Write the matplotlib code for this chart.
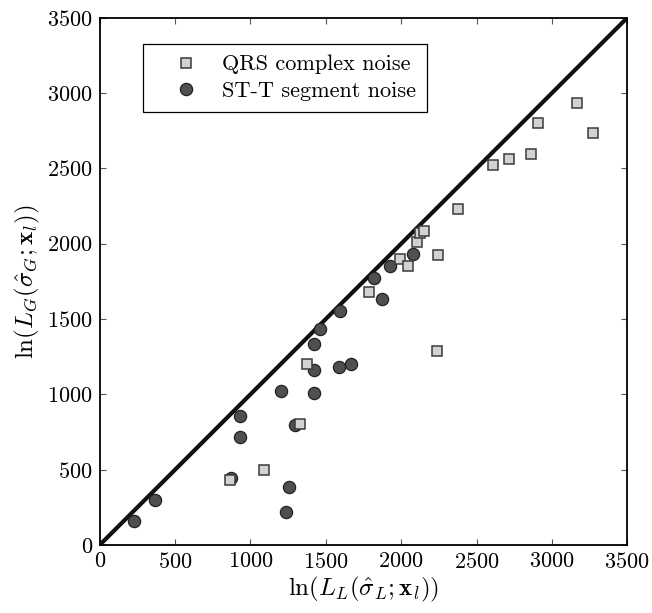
import numpy as np
import matplotlib
matplotlib.use('Agg')
import matplotlib.pyplot as plt

plt.rcParams['font.family'] = 'serif'
plt.rcParams['font.serif'] = ['cmr10', 'DejaVu Serif']
plt.rcParams['mathtext.fontset'] = 'cm'
plt.rcParams['axes.formatter.use_mathtext'] = True

# QRS complex noise (squares)
qrs_x = [863, 1089, 1332, 1372, 1788, 1992, 2047, 2102, 2128, 2153, 2246, 2241,
         2380, 2607, 2716, 2862, 2906, 3165, 3276]
qrs_y = [432, 498, 803, 1200, 1678, 1899, 1855, 2014, 2070, 2085, 1924, 1290,
         2231, 2523, 2561, 2594, 2802, 2933, 2738]

# ST-T segment noise (circles)
stt_x = [228, 365, 868, 932, 932, 1257, 1233, 1204, 1295, 1423, 1423, 1423,
         1461, 1594, 1589, 1664, 1822, 1876, 1929, 2078]
stt_y = [161, 299, 443, 859, 719, 387, 217, 1025, 797, 1333, 1162, 1011,
         1432, 1554, 1184, 1200, 1771, 1631, 1852, 1930]

lims = [0, 3500]
ticks = np.arange(0, 3501, 500)

fig = plt.figure(figsize=(6.52, 6.13), dpi=100)
ax = fig.add_axes([0.153, 0.111, 0.809, 0.860])

ax.plot(lims, lims, color='#111111', lw=3, zorder=1)
ax.plot(qrs_x, qrs_y, 's', ms=7, mfc='#d2d2d2', mec='#3a3a3a', mew=1.1,
        label='QRS complex noise', zorder=3)
ax.plot(stt_x, stt_y, 'o', ms=8.8, mfc='#4f4f4f', mec='#222222', mew=0.9,
        label='ST-T segment noise', zorder=2)

ax.set_xlim(lims)
ax.set_ylim(lims)
ax.set_xticks(ticks)
ax.set_yticks(ticks)
ax.tick_params(direction='in', top=True, right=True, labelsize=16, length=4,
               color='#555555', pad=5)
for s in ax.spines.values():
    s.set_linewidth(1.3)

ax.set_xlabel(r'$\ln(L_L(\hat{\sigma}_L;\mathbf{x}_l))$', fontsize=18, labelpad=2)
ax.set_ylabel(r'$\ln(L_G(\hat{\sigma}_G;\mathbf{x}_l))$', fontsize=18, labelpad=4)

leg = ax.legend(loc='upper left', bbox_to_anchor=(0.0816, 0.9507),
                borderaxespad=0, fontsize=16, fancybox=False,
                edgecolor='black', framealpha=1, borderpad=0.5,
                handlelength=2.9, handletextpad=0.15, labelspacing=0.3)
leg.get_frame().set_linewidth(0.9)

fig.savefig('out.png', dpi=100)
